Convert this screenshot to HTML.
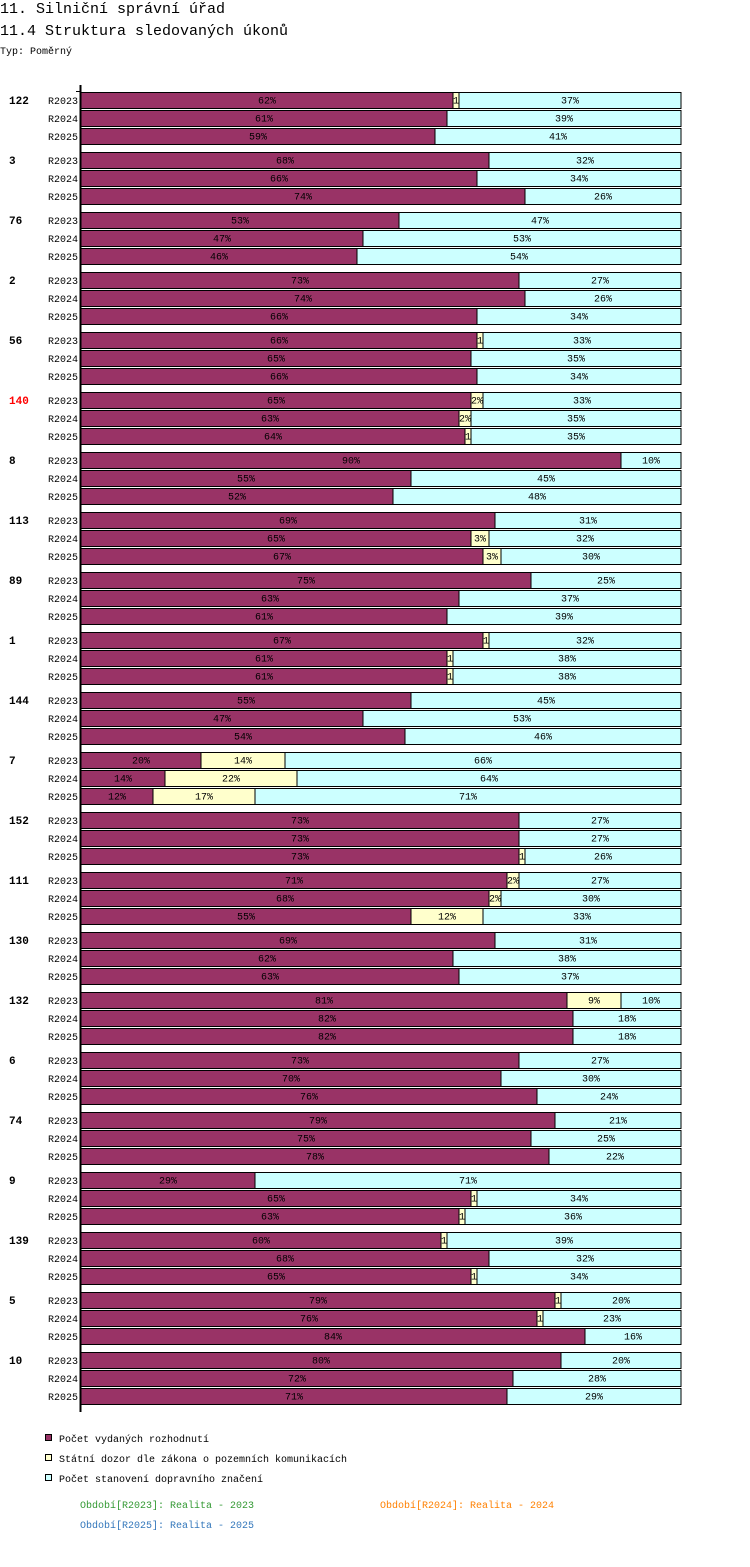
<!DOCTYPE html>
<html><head><meta charset="utf-8">
<style>
body{margin:0;background:#fff;width:750px;height:1562px;overflow:hidden;font-family:"Liberation Mono",monospace;}
svg text{font-family:"Liberation Mono","DejaVu Sans Mono",monospace;}
</style></head>
<body>
<svg id="chart" width="750" height="1562" xmlns="http://www.w3.org/2000/svg">
<text x="0" y="13" font-size="15" fill="#000">11. Silniční správní úřad</text>
<text x="0" y="35" font-size="15" fill="#000">11.4 Struktura sledovaných úkonů</text>
<text x="0" y="54" font-size="10" fill="#000">Typ: Poměrný</text>
<g id="bars"></g>
<line x1="80.5" y1="85" x2="80.5" y2="1412" stroke="#000" stroke-width="2"/>
<line x1="76" y1="91.5" x2="81" y2="91.5" stroke="#000"/>
<rect x="45.5" y="1434.5" width="6" height="6" fill="#993366" stroke="#000"/>
<text x="59" y="1442" font-size="10">Počet vydaných rozhodnutí</text>
<rect x="45.5" y="1454.5" width="6" height="6" fill="#ffffcc" stroke="#000"/>
<text x="59" y="1462" font-size="10">Státní dozor dle zákona o pozemních komunikacích</text>
<rect x="45.5" y="1474.5" width="6" height="6" fill="#ccffff" stroke="#000"/>
<text x="59" y="1482" font-size="10">Počet stanovení dopravního značení</text>
<text x="80" y="1508" font-size="10" fill="#339933">Období[R2023]: Realita - 2023</text>
<text x="380" y="1508" font-size="10" fill="#ff8000">Období[R2024]: Realita - 2024</text>
<text x="80" y="1528" font-size="10" fill="#3377bb">Období[R2025]: Realita - 2025</text>
</svg>
<script>
const groups=["122","3","76","2","56","140","8","113","89","1","144","7","152","111","130","132","6","74","9","139","5","10"];
const periods=["R2023","R2024","R2025"];
const decisions=[[62,61,59],[68,66,74],[53,47,46],[73,74,66],[66,65,66],[65,63,64],[90,55,52],[69,65,67],[75,63,61],[67,61,61],[55,47,54],[20,14,12],[73,73,73],[71,68,55],[69,62,63],[81,82,82],[73,70,76],[79,75,78],[29,65,63],[60,68,65],[79,76,84],[80,72,71]];
const supervision=[[1,0,0],[0,0,0],[0,0,0],[0,0,0],[1,0,0],[2,2,1],[0,0,0],[0,3,3],[0,0,0],[1,1,1],[0,0,0],[14,22,17],[0,0,1],[2,2,12],[0,0,0],[9,0,0],[0,0,0],[0,0,0],[0,1,1],[1,0,1],[1,1,0],[0,0,0]];
const signage=[[37,39,41],[32,34,26],[47,53,54],[27,26,34],[33,35,34],[33,35,35],[10,45,48],[31,32,30],[25,37,39],[32,38,38],[45,53,46],[66,64,71],[27,27,26],[27,30,33],[31,38,37],[10,18,18],[27,30,24],[21,25,22],[71,34,36],[39,32,34],[20,23,16],[20,28,29]];
const colors=["#993366","#ffffcc","#ccffff"];
const NS="http://www.w3.org/2000/svg";
const g=document.getElementById("bars");
const X0=81,W=600,Y0=92,GAP=60,ROW=18,H=16;
function xs(frac){return X0+frac*W;}
function mk(tag,attrs){const e=document.createElementNS(NS,tag);for(const k in attrs)e.setAttribute(k,attrs[k]);g.appendChild(e);return e;}
groups.forEach((name,gi)=>{
  const gy=Y0+gi*GAP;
  const gl=mk("text",{x:9,y:gy+12,"font-size":11,"font-weight":"bold",fill:name==="140"?"#ff0000":"#000"});
  gl.textContent=name;
  
  
  periods.forEach((p,pi)=>{
    const y=gy+pi*ROW;
    const rl=mk("text",{x:78,y:y+12,"font-size":10,"text-anchor":"end"});
    rl.textContent=p;
    
    
    const vals=[decisions[gi][pi],supervision[gi][pi],signage[gi][pi]];
    const tot=vals[0]+vals[1]+vals[2];
    let acc=0;
    vals.forEach((v,si)=>{
      if(v<=0)return;
      const x1=xs(acc/tot),x2=xs((acc+v)/tot);acc+=v;
      const r=mk("rect",{x:x1,y:y+0.5,width:x2-x1,height:H,fill:colors[si],stroke:"#000","stroke-width":1});
      
      
      const t=mk("text",{x:(x1+x2)/2,y:y+11.5,"font-size":10,"text-anchor":"middle"});
      t.textContent=(x2-x1)<9?String(v):v+"%";
      
      
    });
  });
});
</script>
</body></html>
